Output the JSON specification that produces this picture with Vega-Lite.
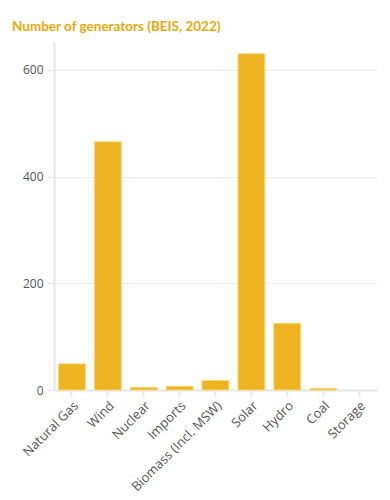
{
  "$schema": "https://vega.github.io/schema/vega-lite/v6.json",
  "width": 323,
  "height": 348,
  "autosize": {"type": "none"},
  "padding": {"left": 54, "top": 42, "right": 13, "bottom": 110},
  "title": {
    "text": "Number of generators (BEIS, 2022)",
    "anchor": "start",
    "frame": "group",
    "offset": 9,
    "dx": -42,
    "font": "Lato",
    "fontSize": 13.5,
    "fontWeight": "bold",
    "color": "#E8A90C"
  },
  "config": {
    "view": {"stroke": null},
    "font": "Open Sans"
  },
  "data": {
    "values": [
      {"source": "Natural Gas", "count": 49},
      {"source": "Wind", "count": 465},
      {"source": "Nuclear", "count": 5},
      {"source": "Imports", "count": 7},
      {"source": "Biomass (Incl. MSW)", "count": 18},
      {"source": "Solar", "count": 630},
      {"source": "Hydro", "count": 125},
      {"source": "Coal", "count": 3},
      {"source": "Storage", "count": 0}
    ]
  },
  "mark": {
    "type": "bar",
    "color": "#EDB320",
    "stroke": "#F7D97A",
    "strokeWidth": 1
  },
  "encoding": {
    "x": {
      "field": "source",
      "type": "nominal",
      "sort": null,
      "title": null,
      "scale": {"paddingInner": 0.25, "paddingOuter": 0.125},
      "axis": {
        "labelAngle": -45,
        "labelFontSize": 13,
        "labelColor": "#555555",
        "labelFont": "Open Sans",
        "domainColor": "#E6E6E6",
        "domainWidth": 2,
        "tickColor": "#E6E6E6",
        "tickWidth": 2,
        "tickSize": 6,
        "labelPadding": 3
      }
    },
    "y": {
      "field": "count",
      "type": "quantitative",
      "title": null,
      "scale": {"domain": [0, 652], "nice": false},
      "axis": {
        "values": [0, 200, 400, 600],
        "labelFontSize": 12,
        "labelColor": "#555555",
        "labelFont": "Open Sans",
        "domainColor": "#E6E6E6",
        "domainWidth": 2,
        "tickColor": "#E6E6E6",
        "tickSize": 7,
        "gridColor": "#EBEBEB",
        "labelPadding": 4
      }
    },
    "strokeOpacity": {
      "condition": {"test": "datum.count > 0", "value": 1},
      "value": 0
    }
  }
}
